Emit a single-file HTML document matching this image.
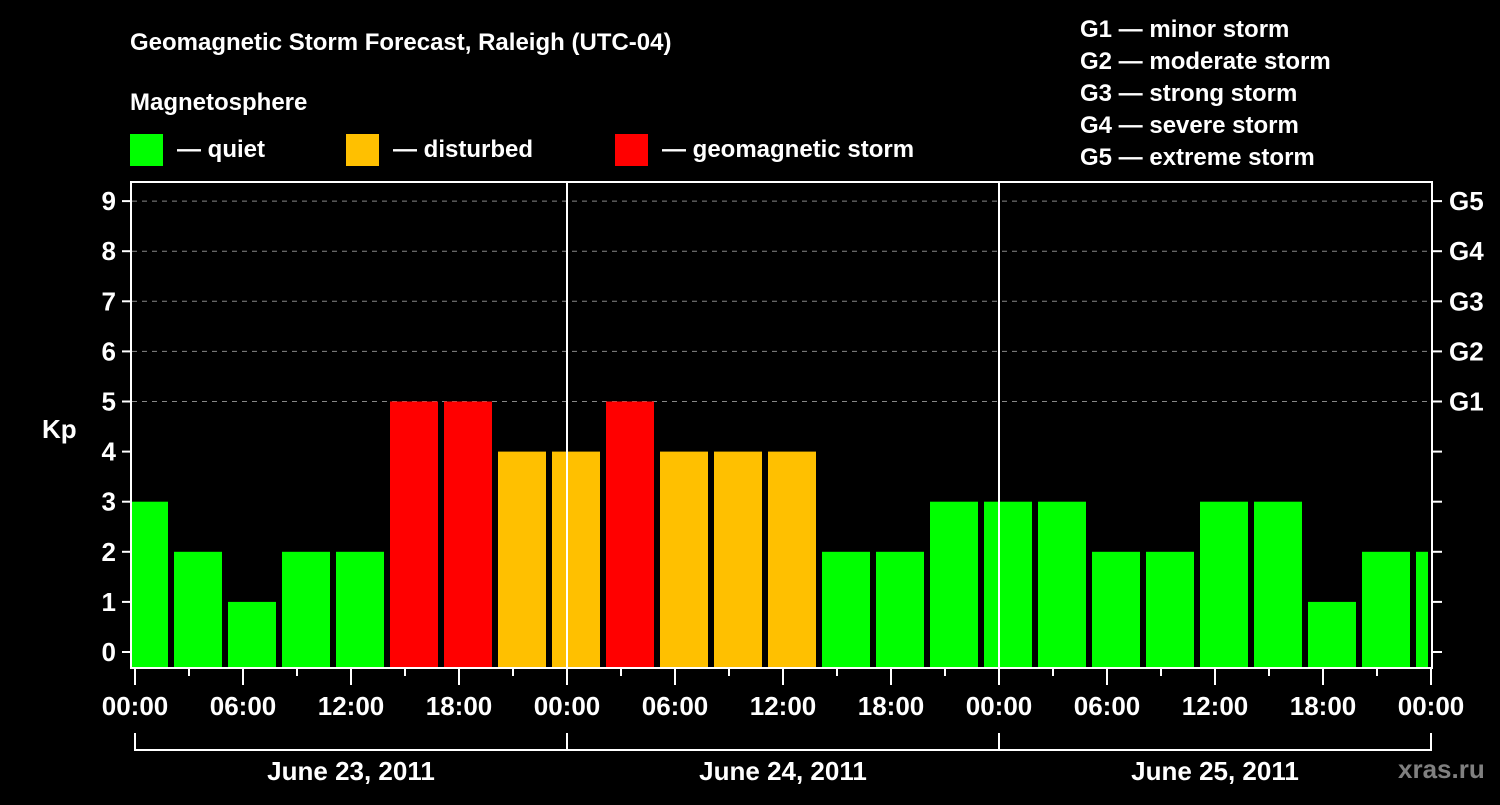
<!DOCTYPE html>
<html><head><meta charset="utf-8"><style>
body{margin:0;background:#000;}
svg text{font-family:"Liberation Sans",sans-serif;font-weight:bold;fill:#fff;}
</style></head><body>
<svg width="1500" height="800" viewBox="0 0 1500 800">
<defs><clipPath id="pc"><rect x="132" y="182" width="1296" height="486"/></clipPath></defs>
<text x="130" y="50" font-size="24">Geomagnetic Storm Forecast, Raleigh (UTC-04)</text>
<text x="130" y="110" font-size="24">Magnetosphere</text>
<rect x="130" y="134" width="33" height="32" fill="#00ff00"/>
<text x="177" y="157" font-size="24">— quiet</text>
<rect x="346" y="134" width="33" height="32" fill="#ffc000"/>
<text x="393" y="157" font-size="24">— disturbed</text>
<rect x="615" y="134" width="33" height="32" fill="#ff0000"/>
<text x="662" y="157" font-size="24">— geomagnetic storm</text>
<g font-size="24">
<text x="1080" y="37">G1 — minor storm</text>
<text x="1080" y="69">G2 — moderate storm</text>
<text x="1080" y="101">G3 — strong storm</text>
<text x="1080" y="133">G4 — severe storm</text>
<text x="1080" y="165">G5 — extreme storm</text>
</g>
<text x="42" y="438" font-size="26">Kp</text>
<text x="1398" y="778" font-size="26" fill="#808080" style="fill:#808080">xras.ru</text>
<g id="grid"></g><g id="bars" clip-path="url(#pc)"></g><g id="axes"></g>
</svg>
<script>
const kpValues=[3,2,1,2,2,5,5,4,4,5,4,4,4,2,2,3,3,3,2,2,3,3,1,2,2];
const yTicks=[0,1,2,3,4,5,6,7,8,9];
const gLabels=["G1","G2","G3","G4","G5"];
const hourLabels=["00:00","06:00","12:00","18:00","00:00","06:00","12:00","18:00","00:00","06:00","12:00","18:00","00:00"];
const dayLabels=["June 23, 2011","June 24, 2011","June 25, 2011"];
const NS="http://www.w3.org/2000/svg";
const X0=135,PXH=18,Y0=652,PXK=50.1,BOT=668;
const xs=h=>X0+h*PXH, ys=k=>Y0-k*PXK;
function mk(t,a,p,txt){const e=document.createElementNS(NS,t);for(const k in a)e.setAttribute(k,a[k]);if(txt!=null)e.textContent=txt;p.appendChild(e);return e;}
const grid=document.getElementById('grid'),bars=document.getElementById('bars'),axes=document.getElementById('axes');
[5,6,7,8,9].forEach(k=>{const l=mk('line',{x1:132,x2:1432,y1:ys(k),y2:ys(k),stroke:'#888','stroke-dasharray':'5,5','stroke-width':1},grid);

});
kpValues.forEach((v,i)=>{const c=0.5+3*i;const col=v>=5?'#ff0000':v>=4?'#ffc000':'#00ff00';
const r=mk('rect',{x:xs(c)-24,y:ys(v),width:48,height:BOT-ys(v),fill:col},bars);

});
// day separators
[24,48].forEach(h=>{const l=mk('line',{x1:xs(h),x2:xs(h),y1:182,y2:668,stroke:'#fff','stroke-width':2},axes);

});
const fr=mk('rect',{x:131,y:182,width:1301,height:486,fill:'none',stroke:'#fff','stroke-width':2},axes);


yTicks.forEach(k=>{
mk('line',{x1:122,x2:131,y1:ys(k),y2:ys(k),stroke:'#fff','stroke-width':2},axes);
mk('line',{x1:1432,x2:1442,y1:ys(k),y2:ys(k),stroke:'#fff','stroke-width':2},axes);
const t=mk('text',{x:116,y:ys(k)+9,'font-size':26,'text-anchor':'end'},axes,String(k));

});
gLabels.forEach((g,i)=>{const t=mk('text',{x:1449,y:ys(5+i)+9,'font-size':26},axes,g);

});
for(let h=0;h<=72;h+=3){mk('line',{x1:xs(h),x2:xs(h),y1:668,y2:h%6===0?685:676,stroke:'#fff','stroke-width':2},axes);}
hourLabels.forEach((s,i)=>{const t=mk('text',{x:xs(i*6),y:715,'font-size':26,'text-anchor':'middle'},axes,s);

});
mk('line',{x1:xs(0),x2:xs(72),y1:750,y2:750,stroke:'#fff','stroke-width':2},axes);
[0,24,48,72].forEach(h=>mk('line',{x1:xs(h),x2:xs(h),y1:733,y2:751,stroke:'#fff','stroke-width':2},axes));
dayLabels.forEach((s,i)=>{const t=mk('text',{x:xs(i*24+12),y:780,'font-size':26,'text-anchor':'middle'},axes,s);

});
</script>
</body></html>
